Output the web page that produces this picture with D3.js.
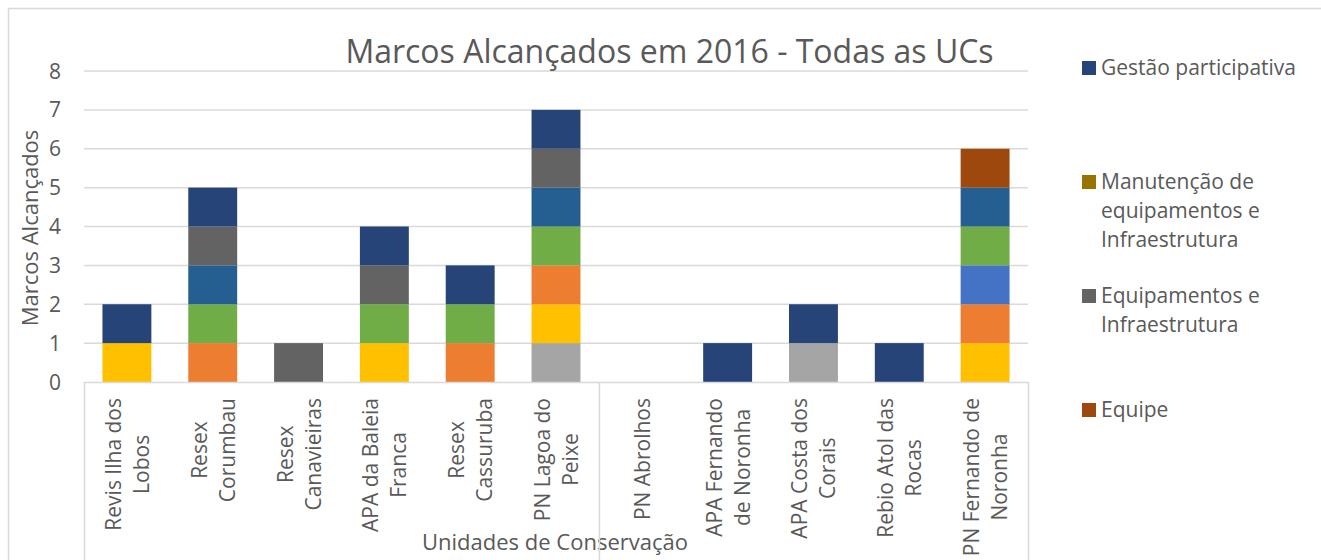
<!DOCTYPE html>
<html><head><meta charset="utf-8">
<script src="https://cdn.jsdelivr.net/npm/d3@7"></script>
<style>
html,body{margin:0;padding:0;background:#fff;}
text{font-family:"Open Sans",sans-serif;fill:#595959;}
</style></head>
<body>
<svg id="c" width="1321" height="560"></svg>
<script>
// ---- data ----
const categories = ["Revis Ilha dos Lobos","Resex Corumbau","Resex Canavieiras","APA da Baleia Franca","Resex Cassuruba","PN Lagoa do Peixe","PN Abrolhos","APA Fernando de Noronha","APA Costa dos Corais","Rebio Atol das Rocas","PN Fernando de Noronha"];
const tickLabels = [["Revis Ilha dos","Lobos"],["Resex","Corumbau"],["Resex","Canavieiras"],["APA da Baleia","Franca"],["Resex","Cassuruba"],["PN Lagoa do","Peixe"],["PN Abrolhos"],["APA Fernando","de Noronha"],["APA Costa dos","Corais"],["Rebio Atol das","Rocas"],["PN Fernando de","Noronha"]];
const groups = [6, 5]; // categories per outer axis group
// series, bottom to top of the stack
const seriesNames = ["Série 1","Série 2","Série 3","Série 4","Série 5","Série 6","Equipe","Equipamentos e Infraestrutura","Manutenção de equipamentos e Infraestrutura","Gestão participativa"];
const serie1      = [0,0,0,0,0,1,0,0,1,0,0];
const serie2      = [1,0,0,1,0,1,0,0,0,0,1];
const serie3      = [0,1,0,0,1,1,0,0,0,0,1];
const serie4      = [0,0,0,0,0,0,0,0,0,0,1];
const serie5      = [0,1,0,1,1,1,0,0,0,0,1];
const serie6      = [0,1,0,0,0,1,0,0,0,0,1];
const equipe      = [0,0,0,0,0,0,0,0,0,0,1];
const equipamentos= [0,1,1,1,0,1,0,0,0,0,0];
const manutencao  = [0,0,0,0,0,0,0,0,0,0,0];
const gestao      = [1,1,0,1,1,1,0,1,1,1,0];
const seriesValues = [serie1,serie2,serie3,serie4,serie5,serie6,equipe,equipamentos,manutencao,gestao];
const seriesColors = ["#A5A5A5","#FFC000","#ED7D31","#4472C4","#70AD47","#255E91","#9E480E","#636363","#997300","#264478"];
const legendItems = [
  {name:"Gestão participativa", lines:["Gestão participativa"], color:"#264478"},
  {name:"Manutenção de equipamentos e Infraestrutura", lines:["Manutenção de","equipamentos e","Infraestrutura"], color:"#997300"},
  {name:"Equipamentos e Infraestrutura", lines:["Equipamentos e","Infraestrutura"], color:"#636363"},
  {name:"Equipe", lines:["Equipe"], color:"#9E480E"}
];
const yTicks = [0,1,2,3,4,5,6,7,8];
const title = "Marcos Alcançados em 2016 - Todas as UCs";
const yTitle = "Marcos Alcançados";
const xTitle = "Unidades de Conservação";

// ---- layout ----
const svg = d3.select("#c");
const plot = {left:84, right:1028, top:71, bottom:382};
const grid = "#d9d9d9";

svg.append("rect").attr("x",8.5).attr("y",8.5).attr("width",1400).attr("height",700)
  .attr("fill","none").attr("stroke",grid).attr("stroke-width",1.5);

const x = d3.scaleBand().domain(categories).range([plot.left, plot.right]).paddingInner(0.43).paddingOuter(0.215);
const y = d3.scaleLinear().domain([0,8]).range([plot.bottom, plot.top]);

// gridlines
svg.append("g").selectAll("line").data(yTicks.filter(d=>d>0)).join("line")
  .attr("x1",plot.left).attr("x2",plot.right)
  .attr("y1",d=>y(d)).attr("y2",d=>y(d)).attr("stroke",grid).attr("stroke-width",1.5);

// y tick labels
svg.append("g").selectAll("text").data(yTicks).join("text")
  .attr("x",61).attr("y",d=>y(d)).attr("dy","0.36em").attr("text-anchor","end")
  .style("font-size","21px").text(d=>d);

// stacked bars
const table = categories.map((c,i)=>{const o={cat:c}; seriesNames.forEach((s,j)=>o[s]=seriesValues[j][i]); return o;});
const stack = d3.stack().keys(seriesNames)(table);
svg.append("g").selectAll("g").data(stack).join("g")
  .attr("fill",(d,i)=>seriesColors[i])
  .selectAll("rect").data(d=>d.filter(p=>p[1]-p[0]>0)).join("rect")
  .attr("x",d=>x(d.data.cat)).attr("width",x.bandwidth())
  .attr("y",d=>y(d[1])).attr("height",d=>y(d[0])-y(d[1]));

// category labels (rotated, centered lines, top-aligned)
const lineH = 28, labelTop = 398;
categories.forEach((c,i)=>{
  const lines = tickLabels[i];
  const cx = x(c) + x.bandwidth()/2;
  const g = svg.append("g");
  const ts = lines.map((l,k)=> g.append("text").style("font-size","21px").attr("text-anchor","middle").text(l));
  const maxLen = d3.max(ts, t=>t.node().getComputedTextLength());
  const cy = labelTop + maxLen/2;
  ts.forEach((t,k)=>{
    const bx = cx + (k-(lines.length-1)/2)*lineH + 8;
    t.attr("transform",`translate(${bx},${cy}) rotate(-90)`);
  });
});

// titles
svg.append("text").attr("x",669.5).attr("y",63).attr("text-anchor","middle").style("font-size","32px").text(title);
svg.append("text").attr("transform","translate(38,228) rotate(-90)").attr("text-anchor","middle").style("font-size","22px").text(yTitle);
svg.append("text").attr("x",555).attr("y",550).attr("text-anchor","middle").style("font-size","22px").text(xTitle);

// x axis line and group dividers
svg.append("line").attr("x1",plot.left).attr("x2",plot.right).attr("y1",plot.bottom+0.5).attr("y2",plot.bottom+0.5)
  .attr("stroke",grid).attr("stroke-width",1.5);
const step = x.step();
let acc = 0; const divs=[0];
groups.forEach(g=>{acc+=g; divs.push(acc);});
svg.append("g").selectAll("line").data(divs).join("line")
  .attr("x1",d=>plot.left+d*step+0.5).attr("x2",d=>plot.left+d*step+0.5)
  .attr("y1",plot.bottom).attr("y2",570).attr("stroke",grid).attr("stroke-width",1.5);

// legend
const legendTops = [61, 175, 289, 403];
legendItems.forEach((it,i)=>{
  const g = svg.append("g");
  g.append("rect").attr("x",1082).attr("y",legendTops[i]).attr("width",14).attr("height",14).attr("fill",it.color);
  it.lines.forEach((l,k)=>{
    g.append("text").attr("x",1101).attr("y",legendTops[i]+13.5+k*29).style("font-size","21px").text(l);
  });
});
</script>
</body></html>
